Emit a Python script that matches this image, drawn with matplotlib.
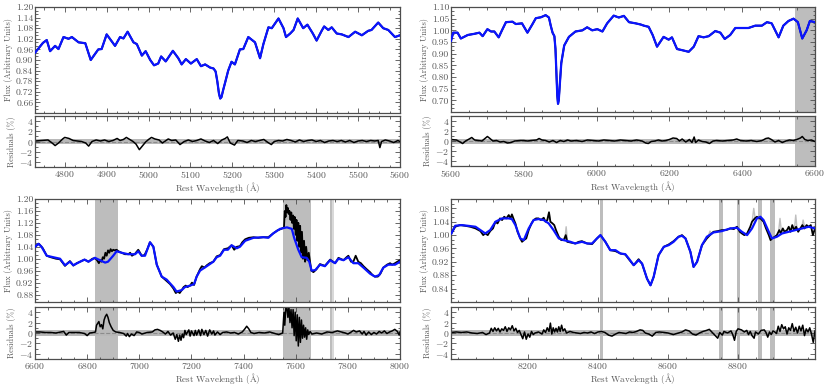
import matplotlib
matplotlib.use('Agg')
import matplotlib.pyplot as plt
from matplotlib.ticker import AutoMinorLocator, FormatStrFormatter

################
# spectra data #
################
# panel 1: 4729 - 5600 A (model and observed overlap)
wl1 = [4729, 4748, 4757, 4765, 4777, 4785, 4797, 4809, 4817, 4833, 4849, 4862, 4880, 4888,
       4900, 4920, 4932, 4940, 4950, 4964, 4972, 4984, 4993, 5004, 5013, 5023, 5030, 5041,
       5058, 5071, 5079, 5089, 5101, 5115, 5125, 5135, 5147, 5155, 5160, 5164, 5168, 5171,
       5174, 5178, 5183, 5190, 5198, 5206, 5218, 5226, 5238, 5254, 5266, 5274, 5286, 5294,
       5310, 5322, 5328, 5338, 5346, 5356, 5369, 5379, 5392, 5401, 5413, 5419, 5429, 5437,
       5449, 5461, 5477, 5493, 5509, 5524, 5532, 5548, 5560, 5572, 5588, 5600]
flux1 = [0.941, 0.997, 1.013, 0.950, 0.980, 0.962, 1.030, 1.020, 1.030, 1.000, 0.995, 0.900,
         0.960, 0.962, 1.045, 0.980, 1.030, 1.022, 1.060, 1.000, 0.990, 0.925, 0.950, 0.900,
         0.870, 0.880, 0.920, 0.892, 0.952, 0.910, 0.875, 0.905, 0.880, 0.905, 0.865, 0.875,
         0.857, 0.852, 0.835, 0.780, 0.710, 0.682, 0.690, 0.730, 0.775, 0.840, 0.890, 0.875,
         0.960, 0.962, 1.030, 1.000, 0.910, 0.990, 1.085, 1.080, 1.135, 1.080, 1.030, 1.050,
         1.070, 1.135, 1.080, 1.100, 1.050, 1.010, 1.065, 1.090, 1.070, 1.085, 1.050, 1.045,
         1.030, 1.060, 1.040, 1.065, 1.070, 1.112, 1.080, 1.070, 1.030, 1.040]

res_wl1 = [4730, 4745, 4760, 4770, 4777, 4785, 4795, 4800, 4810, 4820, 4830, 4840, 4850, 4857,
           4865, 4875, 4885, 4895, 4905, 4915, 4925, 4932, 4940, 4947, 4955, 4963, 4970, 4978,
           4986, 4993, 5000, 5007, 5015, 5025, 5033, 5040, 5047, 5055, 5065, 5075, 5085, 5095,
           5105, 5115, 5125, 5135, 5145, 5155, 5165, 5175, 5183, 5188, 5195, 5205, 5213, 5225,
           5235, 5245, 5255, 5265, 5275, 5285, 5293, 5300, 5310, 5320, 5330, 5340, 5350, 5360,
           5370, 5380, 5390, 5400, 5410, 5420, 5430, 5440, 5450, 5460, 5470, 5480, 5490, 5500,
           5510, 5520, 5530, 5540, 5548, 5552, 5556, 5565, 5575, 5585, 5595, 5600]
res1 = [0.1, 0.2, 0.3, -0.3, -0.8, -0.3, 0.5, 0.8, 0.6, 0.2, 0.1, 0.0, -0.3, -0.9,
        0.0, 0.3, 0.1, 0.3, 0.0, 0.2, 0.6, 0.2, 0.4, 0.8, 0.4, 0.0, -0.5, -1.6,
        -0.8, -0.1, 0.4, 0.8, 0.5, 0.3, -0.3, 0.1, 0.5, 0.2, 0.3, -0.6, 0.0, 0.3,
        0.0, 0.2, 0.5, 0.1, -0.2, 0.2, -0.4, 0.3, 0.6, 0.9, -0.3, -0.7, 0.2, 0.1,
        -0.2, 0.2, 0.0, 0.2, 0.4, -0.2, -0.6, 0.0, 0.2, 0.1, 0.4, 0.2, -0.1, 0.3,
        0.0, 0.2, 0.3, 0.0, 0.2, -0.2, 0.1, 0.2, 0.0, 0.2, -0.1, 0.2, -0.2, 0.1,
        0.2, 0.0, 0.2, 0.1, 0.2, -1.2, 0.0, 0.3, 0.1, -0.2, 0.2, 0.0]

# panel 2: 5600 - 6600 A
wl2 = [5600, 5606, 5618, 5627, 5646, 5664, 5678, 5687, 5700, 5710, 5719, 5731, 5740, 5751,
       5769, 5778, 5795, 5810, 5824, 5833, 5847, 5860, 5869, 5874, 5879, 5884, 5887, 5890,
       5892, 5894, 5896, 5899, 5903, 5911, 5924, 5942, 5961, 5974, 5988, 6002, 6016, 6029,
       6047, 6061, 6075, 6089, 6107, 6121, 6130, 6143, 6154, 6166, 6184, 6198, 6207, 6221,
       6235, 6253, 6267, 6280, 6294, 6308, 6326, 6340, 6352, 6367, 6381, 6399, 6417, 6436,
       6454, 6468, 6481, 6500, 6513, 6527, 6541, 6553, 6565, 6577, 6586, 6600]
flux2 = [0.955, 0.990, 0.990, 0.965, 0.980, 0.985, 0.990, 0.975, 1.005, 0.995, 0.995, 0.970,
         1.000, 1.035, 1.037, 1.027, 1.030, 0.990, 1.027, 1.052, 1.056, 1.065, 1.055, 1.020,
         0.990, 0.975, 0.920, 0.800, 0.720, 0.685, 0.700, 0.770, 0.860, 0.935, 0.972, 0.995,
         1.000, 1.013, 1.000, 1.005, 0.995, 1.030, 1.063, 1.055, 1.062, 1.035, 1.030, 1.025,
         1.020, 1.015, 0.980, 0.930, 0.972, 0.960, 0.970, 0.920, 0.915, 0.908, 0.930, 0.975,
         0.970, 0.975, 0.997, 0.990, 0.963, 0.980, 1.010, 1.010, 1.010, 1.020, 1.020, 1.035,
         1.030, 0.970, 1.020, 1.040, 1.050, 1.035, 0.965, 1.000, 1.040, 1.035]

res_wl2 = [5600, 5615, 5625, 5632, 5640, 5650, 5657, 5665, 5675, 5685, 5695, 5700, 5707, 5715,
           5725, 5735, 5745, 5755, 5765, 5775, 5790, 5800, 5810, 5820, 5835, 5842, 5850, 5860,
           5870, 5880, 5890, 5900, 5910, 5920, 5930, 5945, 5960, 5975, 5990, 6005, 6020, 6035,
           6050, 6065, 6080, 6095, 6110, 6125, 6135, 6142, 6150, 6160, 6170, 6180, 6190, 6200,
           6210, 6220, 6228, 6235, 6245, 6255, 6262, 6268, 6272, 6280, 6290, 6300, 6310, 6320,
           6330, 6345, 6360, 6375, 6385, 6395, 6410, 6425, 6440, 6455, 6465, 6472, 6480, 6490,
           6500, 6510, 6520, 6530, 6540, 6550, 6560, 6565, 6572, 6580, 6590, 6600]
res2 = [0.3, 0.2, -0.2, -0.5, 0.0, 0.4, 0.7, 0.2, 0.1, 0.0, 0.6, 0.9, 0.5, 0.0,
        0.1, -0.2, -0.1, -0.4, -0.3, 0.0, 0.1, 0.1, 0.0, 0.1, 0.2, 0.5, 0.2, 0.1,
        -0.2, 0.1, -0.3, 0.1, -0.1, 0.2, 0.0, 0.1, -0.1, 0.2, 0.1, 0.0, 0.2, 0.1,
        0.0, 0.2, 0.1, 0.0, 0.2, 0.0, -0.4, -0.5, -0.1, 0.0, 0.2, 0.0, 0.1, 0.3,
        0.6, 0.5, 0.0, 0.4, -0.2, 0.3, -0.3, 0.8, -0.3, 0.2, -0.1, -0.2, -0.5, 0.0,
        0.1, 0.0, 0.1, 0.2, 0.4, 0.1, 0.0, 0.1, -0.1, 0.1, 0.5, 0.6, 0.3, -0.2,
        0.1, -0.3, 0.0, 0.2, 0.1, 0.3, 0.6, 0.9, 0.3, 0.1, 0.2, -0.1]

# panel 3: 6600 - 8000 A
wl3 = [6600, 6613, 6625, 6645, 6670, 6696, 6715, 6734, 6747, 6773, 6790, 6805, 6824, 6830,
       6849, 6869, 6880, 6900, 6913, 6932, 6958, 6984, 6996, 7009, 7022, 7041, 7054, 7067,
       7086, 7105, 7131, 7143, 7163, 7175, 7195, 7210, 7220, 7233, 7259, 7284, 7297, 7310,
       7325, 7340, 7354, 7374, 7386, 7406, 7438, 7476, 7495, 7514, 7540, 7566, 7585, 7594,
       7610, 7623, 7642, 7652, 7661, 7675, 7693, 7712, 7732, 7751, 7764, 7783, 7802, 7821,
       7840, 7860, 7885, 7904, 7920, 7936, 7955, 7981, 8000]
flux3 = [1.040, 1.050, 1.040, 1.010, 1.005, 1.000, 0.978, 0.990, 0.978, 0.990, 0.997, 0.990,
         1.000, 1.003, 0.995, 0.987, 0.990, 1.010, 1.025, 1.020, 1.015, 1.015, 1.025, 1.010,
         1.010, 1.055, 1.040, 0.980, 0.940, 0.930, 0.905, 0.890, 0.895, 0.905, 0.910, 0.915,
         0.940, 0.960, 0.975, 0.990, 1.005, 1.010, 1.030, 1.030, 1.045, 1.035, 1.040, 1.060,
         1.070, 1.072, 1.070, 1.085, 1.100, 1.105, 1.100, 1.070, 1.030, 1.005, 1.003, 0.990,
         0.960, 0.962, 0.980, 0.975, 0.995, 0.985, 1.000, 0.995, 1.005, 0.985, 0.985, 0.970,
         0.950, 0.940, 0.945, 0.970, 0.980, 0.980, 0.990]

obs_wl3 = [6600, 6615, 6630, 6645, 6660, 6680, 6696, 6715, 6725, 6734, 6747, 6760, 6773, 6790,
           6805, 6820, 6830, 6838, 6845, 6850, 6855, 6860, 6865, 6870, 6875, 6880, 6885, 6890,
           6895, 6900, 6905, 6913, 6920, 6932, 6945, 6958, 6965, 6972, 6984, 6996, 7003, 7009,
           7020, 7030, 7041, 7054, 7067, 7086, 7105, 7118, 7131, 7140, 7148, 7155, 7163, 7170,
           7178, 7185, 7195, 7202, 7210, 7220, 7233, 7240, 7250, 7259, 7270, 7284, 7297, 7310,
           7325, 7340, 7354, 7364, 7374, 7386, 7395, 7406, 7420, 7438, 7456, 7476, 7495, 7514,
           7530, 7545, 7555, 7558, 7561, 7564, 7567, 7570, 7573, 7576, 7580, 7583, 7586, 7590,
           7593, 7596, 7600, 7603, 7606, 7610, 7613, 7617, 7620, 7624, 7628, 7632, 7636, 7640,
           7645, 7650, 7655, 7660, 7668, 7680, 7693, 7712, 7732, 7751, 7764, 7783, 7795, 7802,
           7812, 7821, 7830, 7840, 7850, 7860, 7872, 7885, 7895, 7904, 7915, 7925, 7936, 7950,
           7962, 7970, 7981, 7990, 8000]
obs3 = [1.040, 1.050, 1.035, 1.010, 1.005, 1.000, 0.998, 0.976, 0.985, 0.992, 0.977, 0.985,
        0.990, 0.997, 0.990, 1.000, 1.002, 0.995, 0.985, 0.995, 0.990, 1.005, 1.000, 1.020,
        1.010, 1.028, 1.020, 1.032, 1.025, 1.030, 1.028, 1.030, 1.025, 1.020, 1.015, 1.015,
        1.020, 1.010, 1.017, 1.030, 1.020, 1.010, 1.012, 1.030, 1.055, 1.040, 0.980, 0.940,
        0.925, 0.915, 0.900, 0.885, 0.890, 0.885, 0.895, 0.905, 0.910, 0.905, 0.910, 0.920,
        0.912, 0.940, 0.965, 0.975, 0.970, 0.978, 0.985, 0.990, 1.008, 1.012, 1.032, 1.035,
        1.045, 1.030, 1.040, 1.042, 1.055, 1.065, 1.070, 1.072, 1.070, 1.072, 1.072, 1.085,
        1.095, 1.100, 1.105, 1.160, 1.140, 1.180, 1.155, 1.170, 1.150, 1.160, 1.130, 1.155,
        1.120, 1.145, 1.100, 1.140, 1.080, 1.130, 1.060, 1.120, 1.040, 1.110, 1.020, 1.090,
        1.000, 1.060, 0.990, 1.040, 0.995, 1.020, 0.990, 0.960, 0.955, 0.965, 0.982, 0.976,
        0.997, 0.985, 1.003, 0.995, 1.005, 1.010, 0.990, 0.990, 1.010, 0.990, 0.985, 0.975,
        0.965, 0.955, 0.945, 0.940, 0.940, 0.950, 0.970, 0.980, 0.985, 0.980, 0.985, 0.990,
        0.995]

res_wl3 = [6600, 6620, 6640, 6660, 6680, 6700, 6710, 6720, 6730, 6750, 6770, 6790, 6800, 6810,
           6825, 6832, 6836, 6840, 6845, 6850, 6855, 6860, 6865, 6870, 6875, 6880, 6885, 6892,
           6900, 6910, 6925, 6940, 6950, 6955, 6962, 6970, 6980, 6990, 7000, 7010, 7030, 7050,
           7060, 7070, 7080, 7090, 7100, 7110, 7120, 7130, 7138, 7144, 7150, 7155, 7160, 7165,
           7170, 7175, 7180, 7190, 7195, 7200, 7210, 7215, 7220, 7228, 7235, 7240, 7248, 7255,
           7262, 7270, 7278, 7285, 7290, 7300, 7310, 7320, 7335, 7350, 7365, 7380, 7395, 7405,
           7412, 7420, 7428, 7440, 7460, 7480, 7500, 7520, 7535, 7550, 7555, 7558, 7562, 7566,
           7570, 7574, 7578, 7582, 7586, 7590, 7594, 7598, 7602, 7606, 7610, 7614, 7618, 7622,
           7626, 7630, 7634, 7638, 7642, 7646, 7650, 7655, 7662, 7680, 7700, 7720, 7740, 7760,
           7775, 7790, 7800, 7810, 7822, 7832, 7845, 7855, 7862, 7870, 7880, 7890, 7900, 7910,
           7920, 7930, 7940, 7950, 7960, 7970, 7980, 7990, 7997, 8000]
res3 = [0.2, 0.2, 0.1, 0.1, 0.0, 0.2, 0.3, -0.4, 0.1, 0.1, 0.1, -0.1, -0.5, 0.0,
        0.1, 0.2, 1.5, 1.8, 2.2, 1.2, 1.6, 0.8, 2.5, 3.2, 3.6, 3.0, 2.0, 1.2,
        0.5, 0.2, 0.1, -0.1, -0.6, -0.1, -0.7, -0.2, -0.5, 0.2, 0.1, -0.2, 0.1, 0.2,
        0.6, 0.7, 0.5, 0.2, -0.2, 0.3, -0.4, 0.0, -1.2, -0.3, -1.6, -0.4, -1.4, -0.2,
        -0.9, 0.5, -0.3, 0.6, -0.6, 0.4, -0.5, 0.5, -0.4, 0.6, -0.5, 0.7, -0.3, 0.5,
        -0.6, 0.6, -0.2, 0.4, -0.4, 0.2, -0.3, 0.1, 0.2, 0.0, 0.1, -0.2, 0.2, 0.8,
        1.3, 0.8, 0.1, -0.1, 0.1, 0.0, 0.2, -0.1, -0.3, 0.0, 4.0, 1.5, 4.8, 5.0,
        3.0, 5.0, 2.0, 4.5, 1.0, 4.5, -0.5, 4.0, -1.5, 3.5, -2.5, 3.0, -1.8, 2.5,
        -1.0, 1.5, -0.8, 1.0, -1.2, 0.6, -0.3, 0.3, -0.2, 0.0, -0.2, 0.2, 0.1, 0.4,
        0.2, 0.0, -0.2, 0.1, 0.5, 0.2, 0.4, -0.2, 0.3, -0.4, 0.2, -0.3, 0.1, -0.2,
        0.3, 0.0, 0.4, -0.1, 0.2, 0.4, 0.7, 0.3, -0.4, 0.2]

# panel 4: 7980 - 9020 A
wl4 = [7981, 7992, 8011, 8035, 8050, 8064, 8078, 8092, 8107, 8126, 8145, 8154, 8164, 8178,
       8188, 8202, 8216, 8230, 8245, 8259, 8273, 8288, 8302, 8321, 8335, 8354, 8369, 8383,
       8397, 8407, 8421, 8435, 8450, 8464, 8478, 8488, 8502, 8516, 8526, 8540, 8550, 8559,
       8573, 8588, 8602, 8616, 8630, 8640, 8650, 8664, 8673, 8683, 8697, 8711, 8730, 8754,
       8778, 8797, 8811, 8826, 8840, 8854, 8864, 8873, 8888, 8897, 8911, 8926, 8945, 8964,
       8983, 9002, 9020]
flux4 = [1.005, 1.028, 1.030, 1.027, 1.025, 1.015, 1.005, 1.015, 1.040, 1.050, 1.050, 1.048,
         1.030, 0.990, 0.985, 1.020, 1.045, 1.048, 1.045, 1.035, 1.015, 0.990, 0.985, 0.980,
         0.975, 0.980, 0.975, 0.975, 0.990, 1.000, 0.980, 0.955, 0.955, 0.945, 0.943, 0.930,
         0.910, 0.925, 0.915, 0.870, 0.850, 0.875, 0.940, 0.965, 0.970, 0.980, 0.995, 0.998,
         0.990, 0.950, 0.905, 0.920, 0.970, 0.995, 1.008, 1.012, 1.020, 1.022, 1.010, 1.000,
         1.020, 1.050, 1.055, 1.045, 1.010, 0.990, 0.995, 1.005, 1.010, 1.015, 1.020, 1.025,
         1.020]

obs_wl4 = [7981, 7992, 8005, 8020, 8035, 8050, 8064, 8072, 8078, 8085, 8092, 8100, 8107, 8113,
           8120, 8126, 8132, 8138, 8145, 8150, 8154, 8160, 8164, 8170, 8178, 8183, 8188, 8195,
           8202, 8210, 8216, 8223, 8230, 8237, 8245, 8250, 8255, 8260, 8264, 8270, 8275, 8280,
           8288, 8295, 8302, 8308, 8312, 8321, 8335, 8345, 8354, 8369, 8383, 8397, 8407, 8421,
           8435, 8450, 8464, 8478, 8488, 8502, 8516, 8526, 8540, 8550, 8559, 8573, 8588, 8602,
           8616, 8630, 8640, 8650, 8664, 8673, 8683, 8697, 8711, 8720, 8730, 8742, 8754, 8766,
           8778, 8788, 8797, 8805, 8811, 8818, 8826, 8835, 8840, 8848, 8854, 8860, 8864, 8873,
           8880, 8888, 8893, 8897, 8905, 8911, 8918, 8922, 8928, 8933, 8940, 8945, 8950, 8955,
           8960, 8966, 8972, 8978, 8984, 8990, 8996, 9002, 9008, 9014, 9020]
obs4 = [1.005, 1.025, 1.030, 1.028, 1.025, 1.020, 1.012, 1.000, 1.005, 1.000, 1.012, 1.020,
        1.040, 1.035, 1.050, 1.045, 1.055, 1.050, 1.060, 1.050, 1.062, 1.045, 1.035, 1.010,
        0.990, 0.980, 0.985, 0.990, 1.015, 1.035, 1.045, 1.050, 1.050, 1.045, 1.052, 1.040,
        1.045, 1.068, 1.040, 1.035, 1.030, 1.015, 0.995, 0.985, 0.985, 1.000, 0.980, 0.978,
        0.975, 0.980, 0.982, 0.975, 0.973, 0.990, 1.000, 0.980, 0.955, 0.952, 0.945, 0.942,
        0.928, 0.910, 0.928, 0.914, 0.870, 0.850, 0.875, 0.940, 0.965, 0.972, 0.982, 0.995,
        1.000, 0.990, 0.950, 0.905, 0.920, 0.970, 0.990, 1.000, 1.010, 1.012, 1.015, 1.015,
        1.020, 1.018, 1.025, 1.010, 1.005, 1.000, 1.005, 1.025, 1.040, 1.050, 1.055, 1.050,
        1.050, 1.040, 1.020, 1.000, 0.985, 0.990, 0.995, 1.000, 1.015, 1.005, 1.020, 1.010,
        1.015, 1.025, 1.010, 1.030, 1.015, 1.025, 1.010, 1.020, 1.030, 1.020, 1.030, 1.025,
        1.030, 1.000, 1.020]

# light grey sky residual spikes (panel 4)
sky_wl4 = [[8256, 8260, 8264], [8305, 8309, 8313], [8716, 8720, 8724], [8841, 8845, 8849],
           [8916, 8920, 8924], [8961, 8965, 8969], [8982, 8986, 8990]]
sky4 = [[1.045, 1.070, 1.040], [0.985, 1.025, 0.980], [1.000, 1.012, 1.005], [1.045, 1.080, 1.050],
        [1.010, 1.050, 1.010], [1.015, 1.060, 1.015], [1.020, 1.045, 1.025]]

res_wl4 = [7980, 7995, 8010, 8025, 8040, 8055, 8070, 8080, 8090, 8095, 8100, 8105, 8110, 8115,
           8120, 8125, 8130, 8135, 8140, 8145, 8150, 8155, 8160, 8165, 8170, 8175, 8180, 8185,
           8190, 8195, 8200, 8205, 8210, 8215, 8220, 8230, 8240, 8245, 8250, 8255, 8260, 8264,
           8268, 8272, 8276, 8280, 8284, 8288, 8292, 8296, 8300, 8305, 8310, 8320, 8330, 8340,
           8350, 8360, 8370, 8380, 8390, 8400, 8410, 8420, 8430, 8440, 8450, 8460, 8470, 8480,
           8490, 8500, 8510, 8520, 8528, 8535, 8545, 8555, 8565, 8575, 8590, 8600, 8615, 8625,
           8640, 8650, 8660, 8670, 8680, 8690, 8700, 8710, 8718, 8725, 8735, 8742, 8748, 8755,
           8760, 8770, 8780, 8785, 8790, 8795, 8800, 8810, 8818, 8825, 8830, 8835, 8840, 8846,
           8850, 8858, 8866, 8875, 8880, 8885, 8890, 8895, 8900, 8905, 8910, 8915, 8920, 8925,
           8930, 8935, 8940, 8945, 8950, 8955, 8960, 8965, 8970, 8975, 8980, 8985, 8990, 8995,
           9000, 9005, 9010, 9015, 9020]
res4 = [0.1, 0.2, 0.1, 0.2, 0.0, -0.1, 0.1, -0.3, 0.0, 0.9, 0.3, 1.0, 0.4, 0.9,
        0.2, 0.8, 0.5, 1.2, 0.3, 1.0, 0.6, 1.4, 0.4, 0.9, 0.1, 0.5, -0.3, -1.1,
        0.2, -1.2, -0.2, -0.8, 0.3, -0.3, 0.0, 0.2, -0.2, 0.6, 0.1, 1.0, 0.3, 1.9,
        -0.2, 1.0, 0.2, 0.9, 0.2, 1.2, 0.3, 1.5, 0.4, 0.8, 0.0, 0.3, 0.1, 0.0,
        -0.1, 0.1, 0.0, 0.2, -0.1, 0.2, 0.3, 0.1, -0.4, -0.6, -0.2, 0.1, 0.0, -0.1,
        0.2, 0.1, 0.3, 0.6, 0.5, 0.0, -0.2, -0.6, 0.1, 0.2, 0.1, 0.0, -0.3, -0.1,
        0.2, 0.6, 0.4, -0.2, -0.4, 0.0, 0.3, 0.5, 0.7, 0.2, -0.5, -1.0, 0.1, -0.4,
        0.3, 0.0, 0.4, -0.3, -1.4, 0.3, 0.8, 0.6, 0.2, 0.5, -0.3, 0.3, -0.5, -1.0,
        0.2, -0.2, 0.5, 0.6, 0.1, -0.8, 0.2, -0.3, 0.4, 0.2, -0.1, 1.3, 0.3, 1.6,
        0.8, 1.2, -0.2, 1.0, 0.5, 1.8, 0.3, 1.1, 0.0, 1.3, 0.4, 1.5, -0.5, 0.8,
        0.2, 1.0, -0.2, -1.8, 0.4]

# masked regions
mask2 = [(6545, 6600)]
mask3 = [(6832, 6918), (7553, 7660), (7733, 7738)]
mask3_light = [(7738, 7746)]
mask4 = [(8405, 8415), (8745, 8757), (8796, 8806), (8858, 8869), (8892, 8906)]

# tick labels
xticks1 = [4800, 4900, 5000, 5100, 5200, 5300, 5400, 5500, 5600]
yticks1 = [0.66, 0.72, 0.78, 0.84, 0.90, 0.96, 1.02, 1.08, 1.14, 1.20]
xticks2 = [5600, 5800, 6000, 6200, 6400, 6600]
yticks2 = [0.70, 0.75, 0.80, 0.85, 0.90, 0.95, 1.00, 1.05, 1.10]
xticks3 = [6600, 6800, 7000, 7200, 7400, 7600, 7800, 8000]
yticks3 = [0.88, 0.92, 0.96, 1.00, 1.04, 1.08, 1.12, 1.16, 1.20]
xticks4 = [8200, 8400, 8600, 8800]
yticks4 = [0.84, 0.88, 0.92, 0.96, 1.00, 1.04, 1.08]
res_ticks = [-4, -2, 0, 2, 4]

####################
# plotting options #
####################
plt.rcParams['font.family'] = 'serif'
plt.rcParams['font.serif'] = ['cmr10', 'DejaVu Serif']
plt.rcParams['mathtext.fontset'] = 'cm'
plt.rcParams['axes.formatter.use_mathtext'] = True
plt.rcParams['axes.unicode_minus'] = True

txt_col = '0.35'
spine_col = '0.3'
shade = '#bdbdbd'


def style_axes(ax):
    for s in ax.spines.values():
        s.set_color(spine_col)
        s.set_linewidth(0.9)
    ax.tick_params(which='both', direction='in', top=True, right=True, colors=spine_col,
                   labelcolor=txt_col, labelsize=7, width=0.6, pad=1.2)
    ax.tick_params(which='major', length=3.5)
    ax.tick_params(which='minor', length=1.8)


def draw_panel(rect_main, rect_res, xlim, ylim, xticks, yticks, xminor,
               wl, flux, owl, oflux, rwl, res, masks, light_masks=()):
    ax = fig.add_axes(rect_main)
    axr = fig.add_axes(rect_res)
    for a in (ax, axr):
        for lo, hi in masks:
            a.axvspan(lo, hi, color=shade, lw=0, zorder=0)
        for lo, hi in light_masks:
            a.axvspan(lo, hi, color='#d9d9d9', lw=0, zorder=0)
    ax.plot(owl, oflux, color='k', lw=1.3, zorder=2)
    ax.plot(wl, flux, color='#0a14ff', lw=1.6, zorder=3)
    ax.set_xlim(xlim)
    ax.set_ylim(ylim)
    ax.set_yticks(yticks)
    ax.yaxis.set_major_formatter(FormatStrFormatter('%.2f'))
    ax.yaxis.set_minor_locator(AutoMinorLocator(3))
    ax.set_xticks(xticks)
    ax.xaxis.set_minor_locator(AutoMinorLocator(xminor))
    ax.set_xticklabels([])
    ax.set_ylabel('Flux (Arbitrary Units)', fontsize=6, color=txt_col, labelpad=2)
    style_axes(ax)

    axr.fill_between(xlim, [-0.5, -0.5], [0.5, 0.5], color='0.72', lw=0, zorder=1)
    axr.axhline(0, color='0.55', lw=0.8, ls='--', zorder=1)
    axr.plot(rwl, res, color='k', lw=1.1, zorder=2)
    axr.set_xlim(xlim)
    axr.set_ylim(-5, 5)
    axr.set_yticks(res_ticks)
    axr.yaxis.set_minor_locator(AutoMinorLocator(2))
    axr.set_xticks(xticks)
    axr.xaxis.set_minor_locator(AutoMinorLocator(xminor))
    axr.set_ylabel('Residuals (%)', fontsize=6, color=txt_col, labelpad=2)
    axr.set_xlabel(r'Rest Wavelength ($\mathrm{\AA}$)', fontsize=6.5, color=txt_col, labelpad=0)
    style_axes(axr)
    return ax, axr


############
# plotting #
############
W, H = 830.0, 388.0
fig = plt.figure(figsize=(8.3, 3.88), dpi=100)


def r(x0, y0, x1, y1):
    return [x0 / W, 1 - y1 / H, (x1 - x0) / W, (y1 - y0) / H]


draw_panel(r(35, 7, 400, 113), r(35, 116, 400, 167), (4729, 5600), (0.60, 1.20), xticks1, yticks1, 4,
           wl1, flux1, wl1, flux1, res_wl1, res1, [])
draw_panel(r(451, 7, 815, 112), r(451, 116, 815, 166), (5600, 6600), (0.65, 1.10), xticks2, yticks2, 4,
           wl2, flux2, wl2, flux2, res_wl2, res2, mask2)
draw_panel(r(35, 199, 400, 302), r(35, 307, 400, 359), (6600, 8000), (0.855, 1.20), xticks3, yticks3, 4,
           wl3, flux3, obs_wl3, obs3, res_wl3, res3, mask3, mask3_light)
ax4, axr4 = draw_panel(r(451, 199, 815, 302), r(451, 307, 815, 359), (7980, 9020), (0.80, 1.108),
                       xticks4, yticks4, 4, wl4, flux4, obs_wl4, obs4, res_wl4, res4, mask4)
for sw, sf in zip(sky_wl4, sky4):
    ax4.plot(sw, sf, color='0.75', lw=1.0, zorder=1)

plt.savefig('out.png', dpi=100)
plt.close('all')
